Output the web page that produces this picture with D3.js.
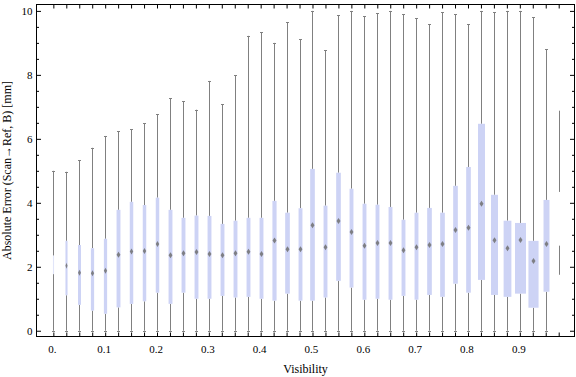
<!DOCTYPE html>
<html>
<head>
<meta charset="utf-8">
<script src="https://cdn.jsdelivr.net/npm/d3@7"></script>
<style>
  body { margin: 0; background: #fff; }
  svg { display: block; font-family: "Liberation Serif", "DejaVu Serif", serif; }
</style>
</head>
<body>
<div id="chart"></div>
<script>
// visibility bins (box positions)
const visibility = d3.range(40).map(i => +(i * 0.025).toFixed(3));

// whisker ends
const whiskerLow = [
  0, 0, 0, 0, 0, 0, 0, 0, 0, 0,
  0, 0, 0, 0, 0, 0, 0, 0, 0, 0,
  0, 0, 0, 0, 0, 0, 0, 0, 0, 0,
  0, 0, 0, 0, 0, 0, 0, 0, 0, 1.75
];
const whiskerHigh = [
  5.0, 4.97, 5.33, 5.72, 6.09, 6.24, 6.30, 6.49, 6.77, 7.27,
  7.18, 6.91, 7.81, 7.08, 7.99, 9.22, 9.33, 9.0, 9.65, 9.11,
  10.0, 8.77, 9.86, 10.0, 9.84, 9.93, 10.0, 9.9, 9.77, 9.58,
  9.96, 9.9, 9.58, 10.0, 9.95, 10.0, 10.0, 9.8, 8.8, 6.88
];
// quartiles and medians
const q1 = [
  1.77, 1.11, 0.81, 0.63, 0.53, 0.73, 0.84, 0.92, 1.19, 0.84,
  1.19, 1.0, 1.0, 1.09, 1.04, 1.06, 1.0, 0.94, 1.16, 0.94,
  0.94, 1.04, 1.56, 1.35, 0.97, 1.0, 0.97, 1.09, 0.97, 1.12,
  1.06, 1.47, 1.19, 1.59, 1.12, 1.06, 1.16, 0.72, 1.22, 2.66
];
const median = [
  2.05, 2.03, 1.81, 1.80, 1.875, 2.375, 2.48, 2.49, 2.71, 2.36,
  2.42, 2.46, 2.40, 2.36, 2.42, 2.47, 2.40, 2.82, 2.55, 2.55,
  3.30, 2.61, 3.43, 3.09, 2.66, 2.74, 2.74, 2.52, 2.61, 2.68,
  2.71, 3.15, 3.22, 3.97, 2.83, 2.58, 2.84, 2.18, 2.71, 3.57
];
const q3 = [
  2.35, 2.81, 2.68, 2.58, 2.875, 3.78, 4.03, 3.93, 4.16, 3.78,
  3.53, 3.6, 3.59, 3.34, 3.44, 3.53, 3.53, 4.06, 3.69, 3.83,
  5.06, 3.91, 4.94, 4.44, 3.97, 3.94, 3.87, 3.47, 3.69, 3.84,
  3.69, 4.53, 5.12, 6.47, 4.25, 3.44, 3.37, 2.81, 4.09, 4.34
];
// relative box width (share of the bin), follows sample size
const relWidth = [
  0.08, 0.16, 0.23, 0.25, 0.25, 0.3, 0.27, 0.27, 0.27, 0.3,
  0.3, 0.3, 0.3, 0.3, 0.3, 0.3, 0.3, 0.32, 0.36, 0.3,
  0.36, 0.3, 0.36, 0.3, 0.3, 0.3, 0.3, 0.3, 0.3, 0.36,
  0.36, 0.36, 0.36, 0.54, 0.54, 0.6, 0.85, 0.78, 0.46, 0.0
];

const xTickValues = [0, 0.1, 0.2, 0.3, 0.4, 0.5, 0.6, 0.7, 0.8, 0.9];
const xTickLabels = ["0.", "0.1", "0.2", "0.3", "0.4", "0.5", "0.6", "0.7", "0.8", "0.9"];
const yTickValues = [0, 2, 4, 6, 8, 10];

const data = visibility.map((v, i) => ({
  v: v,
  lo: whiskerLow[i],
  hi: whiskerHigh[i],
  q1: q1[i],
  med: median[i],
  q3: q3[i],
  w: relWidth[i]
}));

// dimensions
const width = 576, height = 377;
const frame = { left: 36.5, right: 574.5, top: 4.5, bottom: 336.5 };

const svg = d3.select("#chart").append("svg")
  .attr("width", width)
  .attr("height", height);

const xScale = d3.scaleLinear()
  .domain([-0.0325, 1.0055])
  .range([frame.left, frame.right]);

const yScale = d3.scaleLinear()
  .domain([-0.18, 10.2])
  .range([frame.bottom, frame.top]);

const step = xScale(0.025) - xScale(0);
const whiskerColor = "#808080";
const boxColor = "#cdd3f5";

// boxes
const boxes = svg.append("g").selectAll("g").data(data).join("g");

// whiskers drawn only outside the box
boxes.append("line")
  .attr("x1", d => Math.round(xScale(d.v)) + 0.5)
  .attr("x2", d => Math.round(xScale(d.v)) + 0.5)
  .attr("y1", d => yScale(d.lo))
  .attr("y2", d => yScale(d.q1))
  .attr("stroke", whiskerColor)
  .attr("stroke-width", 1);

boxes.append("line")
  .attr("x1", d => Math.round(xScale(d.v)) + 0.5)
  .attr("x2", d => Math.round(xScale(d.v)) + 0.5)
  .attr("y1", d => yScale(d.q3))
  .attr("y2", d => yScale(d.hi))
  .attr("stroke", whiskerColor)
  .attr("stroke-width", 1);

// caps
boxes.filter(d => d.w > 0).append("line")
  .attr("x1", d => Math.round(xScale(d.v)) - 1)
  .attr("x2", d => Math.round(xScale(d.v)) + 2)
  .attr("y1", d => Math.round(yScale(d.hi)) + 0.5)
  .attr("y2", d => Math.round(yScale(d.hi)) + 0.5)
  .attr("stroke", whiskerColor)
  .attr("stroke-width", 1);

boxes.filter(d => d.w > 0).append("line")
  .attr("x1", d => Math.round(xScale(d.v)) - 1)
  .attr("x2", d => Math.round(xScale(d.v)) + 2)
  .attr("y1", d => Math.round(yScale(d.lo)) + 0.5)
  .attr("y2", d => Math.round(yScale(d.lo)) + 0.5)
  .attr("stroke", whiskerColor)
  .attr("stroke-width", 1);

boxes.append("rect")
  .attr("x", d => Math.round(xScale(d.v)) + 0.5 - d.w * step / 2)
  .attr("width", d => d.w * step)
  .attr("y", d => yScale(d.q3))
  .attr("height", d => yScale(d.q1) - yScale(d.q3))
  .attr("fill", boxColor)
  .attr("fill-opacity", d => d.w < 0.1 ? 0.6 : 1);

// median marker
boxes.filter(d => d.w > 0.1).append("path")
  .attr("d", d => {
    const cx = Math.round(xScale(d.v)) + 0.5;
    const cy = yScale(d.med);
    const hw = Math.min(2, d.w * step / 2);
    return `M${cx},${cy - 3}L${cx + hw},${cy}L${cx},${cy + 3}L${cx - hw},${cy}Z`;
  })
  .attr("fill", "#707070")
  .attr("opacity", 0.85);

// frame
svg.append("rect")
  .attr("x", frame.left)
  .attr("y", frame.top)
  .attr("width", frame.right - frame.left)
  .attr("height", frame.bottom - frame.top)
  .attr("fill", "none")
  .attr("stroke", "#000")
  .attr("stroke-width", 1);

// x ticks on bottom and top (one per bin)
const xAxisBottom = svg.append("g")
  .attr("transform", `translate(0,${frame.bottom})`)
  .call(d3.axisBottom(xScale).tickValues(visibility).tickSize(-4).tickFormat(""));
const xAxisTop = svg.append("g")
  .attr("transform", `translate(0,${frame.top})`)
  .call(d3.axisTop(xScale).tickValues(visibility).tickSize(-4).tickFormat(""));
[xAxisBottom, xAxisTop].forEach(a => {
  a.select(".domain").remove();
  a.selectAll(".tick line").attr("stroke", "#000");
});

// x tick labels
svg.append("g").selectAll("text").data(xTickValues).join("text")
  .attr("x", (d) => xScale(d) - 1)
  .attr("y", frame.bottom + 16)
  .attr("text-anchor", "middle")
  .attr("font-size", 11)
  .attr("fill", "#000")
  .text((d, i) => xTickLabels[i]);

// y ticks: major every 2, minor every 0.5, left and right
const minorY = d3.range(0, 10.01, 0.5).filter(v => v % 2 !== 0);
const yLeftMajor = svg.append("g")
  .attr("transform", `translate(${frame.left},0)`)
  .call(d3.axisLeft(yScale).tickValues(yTickValues).tickSize(-4.5).tickFormat(""));
const yLeftMinor = svg.append("g")
  .attr("transform", `translate(${frame.left},0)`)
  .call(d3.axisLeft(yScale).tickValues(minorY).tickSize(-2.5).tickFormat(""));
const yRightMajor = svg.append("g")
  .attr("transform", `translate(${frame.right},0)`)
  .call(d3.axisRight(yScale).tickValues(yTickValues).tickSize(-4.5).tickFormat(""));
const yRightMinor = svg.append("g")
  .attr("transform", `translate(${frame.right},0)`)
  .call(d3.axisRight(yScale).tickValues(minorY).tickSize(-2.5).tickFormat(""));
[yLeftMajor, yLeftMinor, yRightMajor, yRightMinor].forEach(a => {
  a.select(".domain").remove();
  a.selectAll(".tick line").attr("stroke", "#000");
});

// y tick labels
svg.append("g").selectAll("text").data(yTickValues).join("text")
  .attr("x", frame.left - 4)
  .attr("y", d => yScale(d) + 4)
  .attr("text-anchor", "end")
  .attr("font-size", 11)
  .attr("fill", "#000")
  .text(d => d);

// axis titles
svg.append("text")
  .attr("x", (frame.left + frame.right) / 2)
  .attr("y", 373)
  .attr("text-anchor", "middle")
  .attr("font-size", 12)
  .attr("fill", "#000")
  .text("Visibility");

svg.append("text")
  .attr("transform", `translate(11,${(frame.top + frame.bottom) / 2}) rotate(-90)`)
  .attr("text-anchor", "middle")
  .attr("font-size", 12)
  .attr("fill", "#000")
  .text("Absolute Error (Scan\u2192Ref, B) [mm]");
</script>
</body>
</html>
